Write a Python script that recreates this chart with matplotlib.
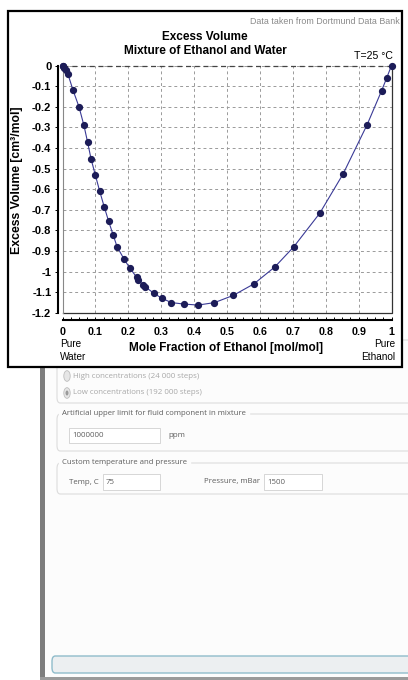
import matplotlib
matplotlib.use('Agg')
import matplotlib.pyplot as plt
from matplotlib.patches import Rectangle, FancyBboxPatch, Circle
from matplotlib.lines import Line2D
from matplotlib.ticker import MultipleLocator, FuncFormatter

# mole fraction of ethanol and excess volume (cm3/mol)
mole_fraction = [0, 0.002, 0.006, 0.011, 0.016, 0.032, 0.050, 0.065, 0.076, 0.087,
                 0.100, 0.113, 0.127, 0.140, 0.154, 0.166, 0.186, 0.204, 0.225, 0.231,
                 0.245, 0.252, 0.278, 0.302, 0.331, 0.369, 0.412, 0.462, 0.519, 0.582,
                 0.646, 0.703, 0.782, 0.853, 0.926, 0.970, 0.985, 1.0]
excess_volume = [0, -0.004, -0.011, -0.023, -0.039, -0.12, -0.20, -0.29, -0.37, -0.455,
                 -0.533, -0.61, -0.687, -0.755, -0.823, -0.88, -0.937, -0.982, -1.027, -1.042,
                 -1.067, -1.075, -1.106, -1.13, -1.151, -1.158, -1.163, -1.151, -1.116, -1.06,
                 -0.977, -0.88, -0.717, -0.526, -0.287, -0.122, -0.062, 0]

W, H = 408, 680
FONT = ['Liberation Sans', 'DejaVu Sans']
UI_FONT = ['Open Sans', 'DejaVu Sans']


def fx(px):
    return px / W


def fy(py):
    return 1 - py / H


def tick_fmt(v, pos):
    v = round(v, 2)
    if v == 0:
        return '0'
    return '{:g}'.format(v)


fig = plt.figure(figsize=(W / 100, H / 100), dpi=100)
fig.patch.set_facecolor('white')
plt.rcParams['font.family'] = FONT


def add_rect(x0, y0, x1, y1, **kw):
    r = Rectangle((fx(x0), fy(y1)), fx(x1) - fx(x0), fy(y0) - fy(y1),
                  transform=fig.transFigure, **kw)
    fig.add_artist(r)
    return r


def add_box(x0, y0, x1, y1, **kw):
    b = FancyBboxPatch((fx(x0), fy(y1)), fx(x1) - fx(x0), fy(y0) - fy(y1),
                       boxstyle='round,pad=0,rounding_size=0.008',
                       transform=fig.transFigure, **kw)
    fig.add_artist(b)
    return b


def ui_text(px, py, s, **kw):
    kw.setdefault('color', '#5e5e5e')
    kw.setdefault('fontsize', 5.7)
    fig.text(fx(px), fy(py), s, family=UI_FONT, va='center', **kw)


# --- screenshot of the dialog under the chart ---
add_rect(45, 340, 420, 680, facecolor='#fcfcfc', edgecolor='none', zorder=-10)
add_rect(40, 340, 45, 680, facecolor='#7d7d7d', edgecolor='none', zorder=-9)
add_rect(40, 677, 420, 680, facecolor='#9a9a9a', edgecolor='none', zorder=-9)

add_box(57, 340, 430, 403, facecolor='none', edgecolor='#dcdcdc', lw=0.8, zorder=-8)
add_box(57, 414, 430, 451, facecolor='none', edgecolor='#dcdcdc', lw=0.8, zorder=-8)
add_box(57, 463, 430, 494, facecolor='none', edgecolor='#dcdcdc', lw=0.8, zorder=-8)

for py, selected in [(376, False), (393, True)]:
    c = Circle((fx(67), fy(py)), 3.2 / W, transform=fig.transFigure,
               facecolor='#e6e6e6', edgecolor='#bdbdbd', lw=0.6, zorder=-7)
    fig.add_artist(c)
    if selected:
        d = Circle((fx(67), fy(py)), 1.5 / W, transform=fig.transFigure,
                   facecolor='#9a9a9a', edgecolor='none', zorder=-6)
        fig.add_artist(d)
ui_text(73, 376, 'High concentrations (24 000 steps)', color='#a8a8a8')
ui_text(73, 393, 'Low concentrations (192 000 steps)', color='#a8a8a8')

ui_text(62, 414, 'Artificial upper limit for fluid component in mixture',
        backgroundcolor='#fcfcfc', fontsize=5.6)
add_rect(69, 428, 160, 443, facecolor='white', edgecolor='#d0d0d0', lw=0.6, zorder=-7)
ui_text(72, 435.5, '1000000')
ui_text(168, 435.5, 'ppm')

ui_text(62, 463, 'Custom temperature and pressure', backgroundcolor='#fcfcfc',
        fontsize=5.6)
ui_text(69, 482, 'Temp, C')
add_rect(103, 474, 160, 490, facecolor='white', edgecolor='#d0d0d0', lw=0.6, zorder=-7)
ui_text(106, 482, '75')
ui_text(204, 482, 'Pressure, mBar')
add_rect(264, 474, 322, 490, facecolor='white', edgecolor='#d0d0d0', lw=0.6, zorder=-7)
ui_text(267, 482, '1500')

add_box(52, 656, 440, 673, facecolor='#eceff1', edgecolor='#8fbccb', lw=1.0, zorder=-7)

# --- chart panel ---
add_rect(8, 11, 402, 367, facecolor='white', edgecolor='black', lw=1.6, zorder=-2)

ax = fig.add_axes([fx(62.5), fy(312.7), fx(391.5) - fx(62.5), fy(65.5) - fy(312.7)])
ax.set_facecolor('none')
ax.set_xlim(0, 1)
ax.set_ylim(-1.2, 0)

ax.plot(mole_fraction, excess_volume, color='#3a3a96', lw=0.8,
        marker='o', markersize=4.2, markerfacecolor='#1c1c58',
        markeredgecolor='#1c1c58', zorder=3, clip_on=False)

ax.xaxis.set_major_locator(MultipleLocator(0.1))
ax.xaxis.set_minor_locator(MultipleLocator(0.025))
ax.yaxis.set_major_locator(MultipleLocator(0.1))
ax.xaxis.set_major_formatter(FuncFormatter(tick_fmt))
ax.yaxis.set_major_formatter(FuncFormatter(tick_fmt))
ax.grid(True, which='major', color='#9a9a9a', lw=0.7, linestyle=(0, (3, 3)))

for s in ['top', 'right']:
    ax.spines[s].set_visible(False)
ax.spines['bottom'].set_position(('outward', 5))
ax.spines['left'].set_position(('outward', 3.6))
ax.spines['bottom'].set_linewidth(1.5)
ax.spines['left'].set_linewidth(1.5)

# frame of the plot area
ax.add_line(Line2D([0, 1, 1], [0, 0, 1], transform=ax.transAxes,
                   color='#333333', lw=0.9, clip_on=False, zorder=2))
ax.add_line(Line2D([0, 0], [0, 1], transform=ax.transAxes,
                   color='#888888', lw=0.8, clip_on=False, zorder=2))
ax.add_line(Line2D([0, 1], [1, 1], transform=ax.transAxes,
                   color='#444444', lw=0.9, linestyle=(0, (4, 3)),
                   clip_on=False, zorder=2))

ax.tick_params(axis='x', which='both', direction='in', length=2, width=0.7,
               pad=5.5, labelsize=7.7)
ax.tick_params(axis='y', which='both', direction='out', length=2, width=0.7,
               pad=2.5, labelsize=8)
for lab in ax.get_xticklabels() + ax.get_yticklabels():
    lab.set_fontweight('bold')

# --- texts ---
fig.text(fx(400), fy(22), 'Data taken from Dortmund Data Bank', ha='right',
         va='center', fontsize=6.4, color='#8a8a8a')
fig.text(fx(205), fy(37), 'Excess Volume', ha='center', va='center',
         fontsize=8.5, fontweight='bold')
fig.text(fx(205), fy(51), 'Mixture of Ethanol and Water', ha='center',
         va='center', fontsize=8.5, fontweight='bold')
fig.text(fx(393), fy(56), 'T=25 °C', ha='right', va='center', fontsize=7.6)
fig.text(fx(17), fy(180), 'Excess Volume [cm³/mol]', ha='center', va='center',
         rotation=90, fontsize=8.8, fontweight='bold')
fig.text(fx(226), fy(348), 'Mole Fraction of Ethanol [mol/mol]', ha='center',
         va='center', fontsize=8.5, fontweight='bold')
fig.text(fx(60), fy(344), 'Pure', ha='left', va='center', fontsize=7.2)
fig.text(fx(60), fy(357), 'Water', ha='left', va='center', fontsize=7.2)
fig.text(fx(395), fy(344), 'Pure', ha='right', va='center', fontsize=7.2)
fig.text(fx(395), fy(357), 'Ethanol', ha='right', va='center', fontsize=7.2)

fig.savefig('out.png', dpi=100)
